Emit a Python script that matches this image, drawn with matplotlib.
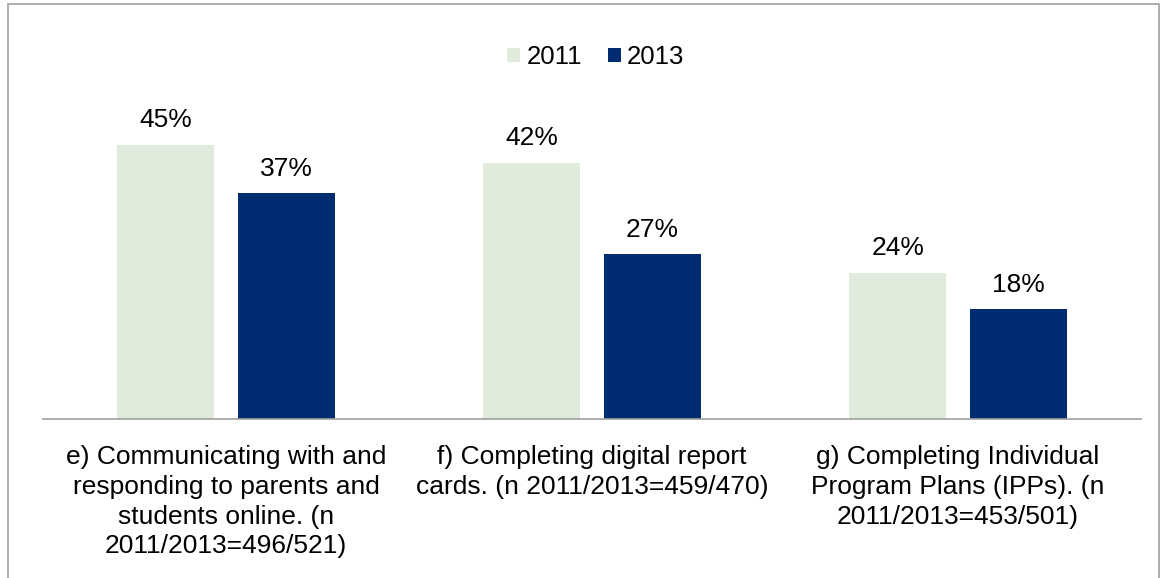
import matplotlib.pyplot as plt
import matplotlib.patches as patches
import numpy as np

plt.rcParams['font.family'] = ['Liberation Sans', 'DejaVu Sans']

categories = [
    "e) Communicating with and\nresponding to parents and\nstudents online. (n\n2011/2013=496/521)",
    "f) Completing digital report\ncards. (n 2011/2013=459/470)",
    "g) Completing Individual\nProgram Plans (IPPs). (n\n2011/2013=453/501)",
]
series_names = ["2011", "2013"]
values_2011 = [45, 42, 24]
values_2013 = [37, 27, 18]
colors = ["#E0EBDC", "#002D72"]

W, H = 1166, 578
fig = plt.figure(figsize=(W / 100, H / 100), dpi=100)

# plot area in pixel terms: baseline at y=419, x from 43 to 1141
left, right, base = 43, 1141, 419
top = base - 6.1 * 60
ax = fig.add_axes([left / W, 1 - base / H, (right - left) / W, (base - top) / H])

x = np.arange(len(categories))
bw = 0.265
off = 0.165
b1 = ax.bar(x - off, values_2011, bw, color=colors[0], label=series_names[0])
b2 = ax.bar(x + off, values_2013, bw, color=colors[1], label=series_names[1])

for bars, vals in [(b1, values_2011), (b2, values_2013)]:
    for rect, v in zip(bars, vals):
        ax.annotate(f"{v}%", (rect.get_x() + rect.get_width() / 2, v),
                    xytext=(0, 9), textcoords="offset points",
                    ha="center", va="bottom", fontsize=19, color="#000000")

ax.set_xlim(-0.5, len(categories) - 0.5)
ax.set_ylim(0, 60)
for s in ["top", "right", "left"]:
    ax.spines[s].set_visible(False)
ax.spines["bottom"].set_color("#A0A0A0")
ax.spines["bottom"].set_linewidth(1.2)
ax.set_yticks([])
ax.set_xticks(x)
ax.set_xticklabels(categories, fontsize=19, linespacing=1.3)
ax.tick_params(axis="x", length=0, pad=19)

ax.legend(loc="center", bbox_to_anchor=(596 / W, 1 - 57 / H),
          bbox_transform=fig.transFigure, ncol=2, frameon=False,
          fontsize=18.5, handlelength=0.5, handleheight=0.5,
          handletextpad=0.25, columnspacing=1.0)

# outer frame
fig.patches.append(patches.Rectangle((8 / W, -0.05), (1159 - 8) / W, 1.05 - 4 / H,
                                     transform=fig.transFigure, fill=False,
                                     edgecolor="#A0A0A0", linewidth=1.2))

fig.savefig("out.png", dpi=100)
